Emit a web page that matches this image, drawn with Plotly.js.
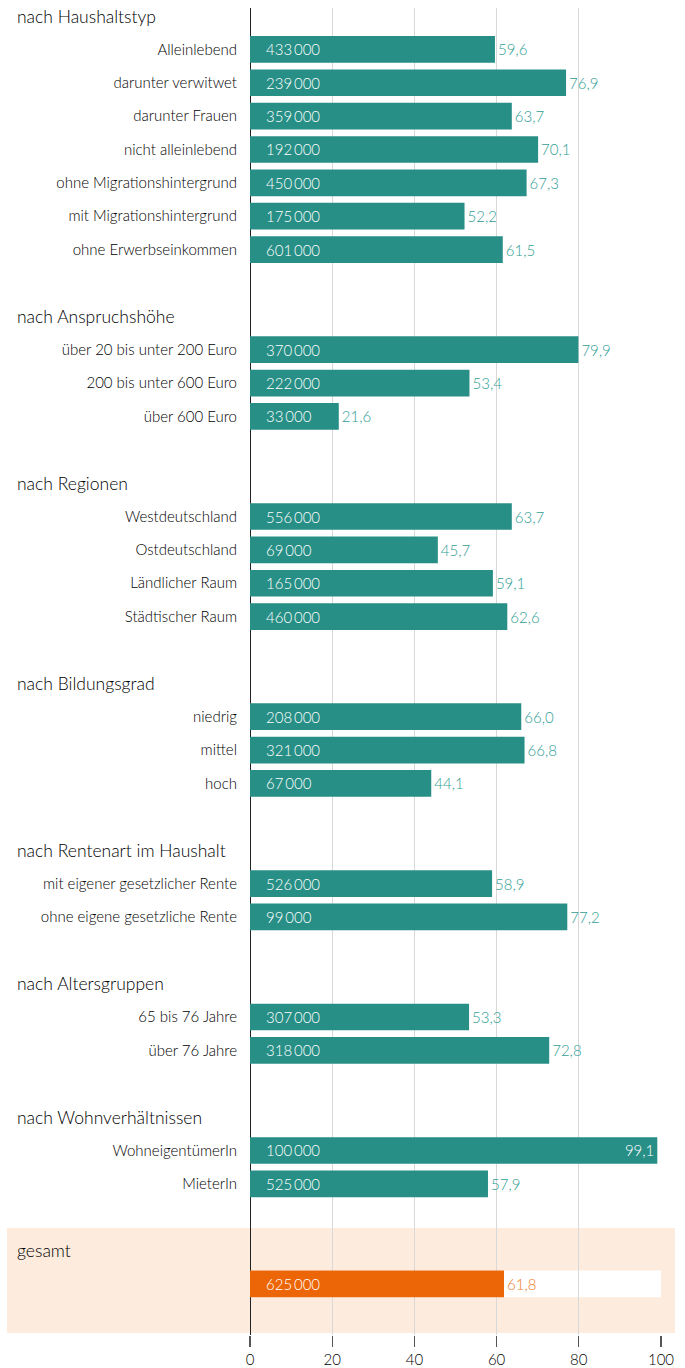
<!DOCTYPE html>
<html><head><meta charset="utf-8">
<script src="https://cdn.plot.ly/plotly-3.0.1.min.js"></script>
<style>html,body{margin:0;padding:0;background:#fff}#c{width:685px;height:1368px}</style>
</head><body><div id="c"></div>
<script>
// ---- data ----
const groupTitles = ["nach Haushaltstyp","nach Anspruchshöhe","nach Regionen","nach Bildungsgrad","nach Rentenart im Haushalt","nach Altersgruppen","nach Wohnverhältnissen"];
const groupLabels = [
  ["Alleinlebend","darunter verwitwet","darunter Frauen","nicht alleinlebend","ohne Migrationshintergrund","mit Migrationshintergrund","ohne Erwerbseinkommen"],
  ["über 20 bis unter 200 Euro","200 bis unter 600 Euro","über 600 Euro"],
  ["Westdeutschland","Ostdeutschland","Ländlicher Raum","Städtischer Raum"],
  ["niedrig","mittel","hoch"],
  ["mit eigener gesetzlicher Rente","ohne eigene gesetzliche Rente"],
  ["65 bis 76 Jahre","über 76 Jahre"],
  ["WohneigentümerIn","MieterIn"]
];
const groupShares = [
  [59.6,76.9,63.7,70.1,67.3,52.2,61.5],
  [79.9,53.4,21.6],
  [63.7,45.7,59.1,62.6],
  [66.0,66.8,44.1],
  [58.9,77.2],
  [53.3,72.8],
  [99.1,57.9]
];
const groupCounts = [
  [433000,239000,359000,192000,450000,175000,601000],
  [370000,222000,33000],
  [556000,69000,165000,460000],
  [208000,321000,67000],
  [526000,99000],
  [307000,318000],
  [100000,525000]
];
const totalTitle = "gesamt";
const totalShare = 61.8;
const totalCount = 625000;
const xTicks = [0,20,40,60,80,100];

// ---- style ----
const TEAL = "#278f86", TEAL_TXT = "#2f9e94", ORANGE = "#ec6608", ORANGE_TXT = "#ee7d26", PANEL = "#fdecdd";
const FONT = "Lato, 'Open Sans', sans-serif";
const W = 300;

const fmtCount = n => String(n).replace(/\B(?=(\d{3})+(?!\d))/g, "\u2009");
const fmtShare = v => v.toFixed(1).replace(".", ",");

// ---- build rows ----
let row = 0;
const ys = [], xs = [], counts = [], colors = [], tickvals = [], ticktext = [], headers = [];
groupTitles.forEach((t, g) => {
  headers.push({t, r: row}); row++;
  groupLabels[g].forEach((lab, i) => {
    ys.push(row); xs.push(groupShares[g][i]); counts.push(groupCounts[g][i]);
    colors.push(TEAL); tickvals.push(row); ticktext.push(lab); row++;
  });
  row++; // blank row
});
headers.push({t: totalTitle, r: row}); row++;
const totalRow = row;
ys.push(row); xs.push(totalShare); counts.push(totalCount); colors.push(ORANGE); row++;

const inside = xs.map(v => v > 90);
const textpos = inside.map(b => b ? "inside" : "outside");
const textcol = xs.map((v, i) => inside[i] ? "#ffffff" : (colors[i] === ORANGE ? ORANGE_TXT : TEAL_TXT));

const trace = {
  type: "bar", orientation: "h", x: xs, y: ys, width: 0.8,
  marker: {color: colors, line: {width: 0}},
  text: xs.map(fmtShare), textposition: textpos, insidetextanchor: "end",
  textfont: {family: FONT, size: 15, color: textcol, weight: W},
  constraintext: "none", cliponaxis: false, hoverinfo: "none", textangle: 0
};

const annotations = [];
headers.forEach(h => annotations.push({
  xref: "paper", x: (15 - 250) / 411, xanchor: "left", yref: "y", y: h.r, yanchor: "middle",
  text: h.t, showarrow: false, font: {family: FONT, size: 17.5, color: "#000", weight: W}
}));
ys.forEach((y, i) => annotations.push({
  xref: "x", x: 0, xanchor: "left", xshift: 14, yref: "y", y: y, yanchor: "middle",
  text: fmtCount(counts[i]), showarrow: false, font: {family: FONT, size: 15, color: "#ffffff", weight: W}
}));

const shapes = [
  {type: "rect", layer: "below", xref: "paper", yref: "paper",
   x0: (7 - 250) / 411, x1: (675 - 250) / 411, y0: (1335 - 1333) / 1327, y1: (1335 - 1228) / 1327,
   fillcolor: PANEL, line: {width: 0}},
  {type: "rect", layer: "below", xref: "x", yref: "y", x0: 0, x1: xTicks[xTicks.length - 1],
   y0: totalRow - 0.4, y1: totalRow + 0.4, fillcolor: "#ffffff", line: {width: 0}}
];

const layout = {
  width: 685, height: 1368,
  margin: {l: 250, r: 24, t: 8, b: 33},
  paper_bgcolor: "rgba(0,0,0,0)", plot_bgcolor: "rgba(0,0,0,0)",
  showlegend: false, barmode: "overlay",
  font: {family: FONT, size: 15, color: "#000", weight: W},
  xaxis: {range: [0, 100], tickvals: xTicks, ticks: "outside", ticklen: 11, tickcolor: "#555", tickwidth: 1.2,
    showgrid: true, gridcolor: "#d8d8d8", gridwidth: 1, zeroline: true, zerolinecolor: "#222", zerolinewidth: 1,
    showline: false, tickfont: {family: FONT, size: 15, color: "#000", weight: W}, fixedrange: true},
  yaxis: {range: [39.53, -0.24], tickvals: tickvals, ticktext: ticktext, ticks: "outside", ticklen: 9,
    tickcolor: "rgba(0,0,0,0)", showgrid: false, zeroline: false, showline: false,
    tickfont: {family: FONT, size: 15, color: "#000", weight: W}, fixedrange: true},
  annotations, shapes
};

Plotly.newPlot("c", [trace], layout, {staticPlot: true, displayModeBar: false});
</script></body></html>
